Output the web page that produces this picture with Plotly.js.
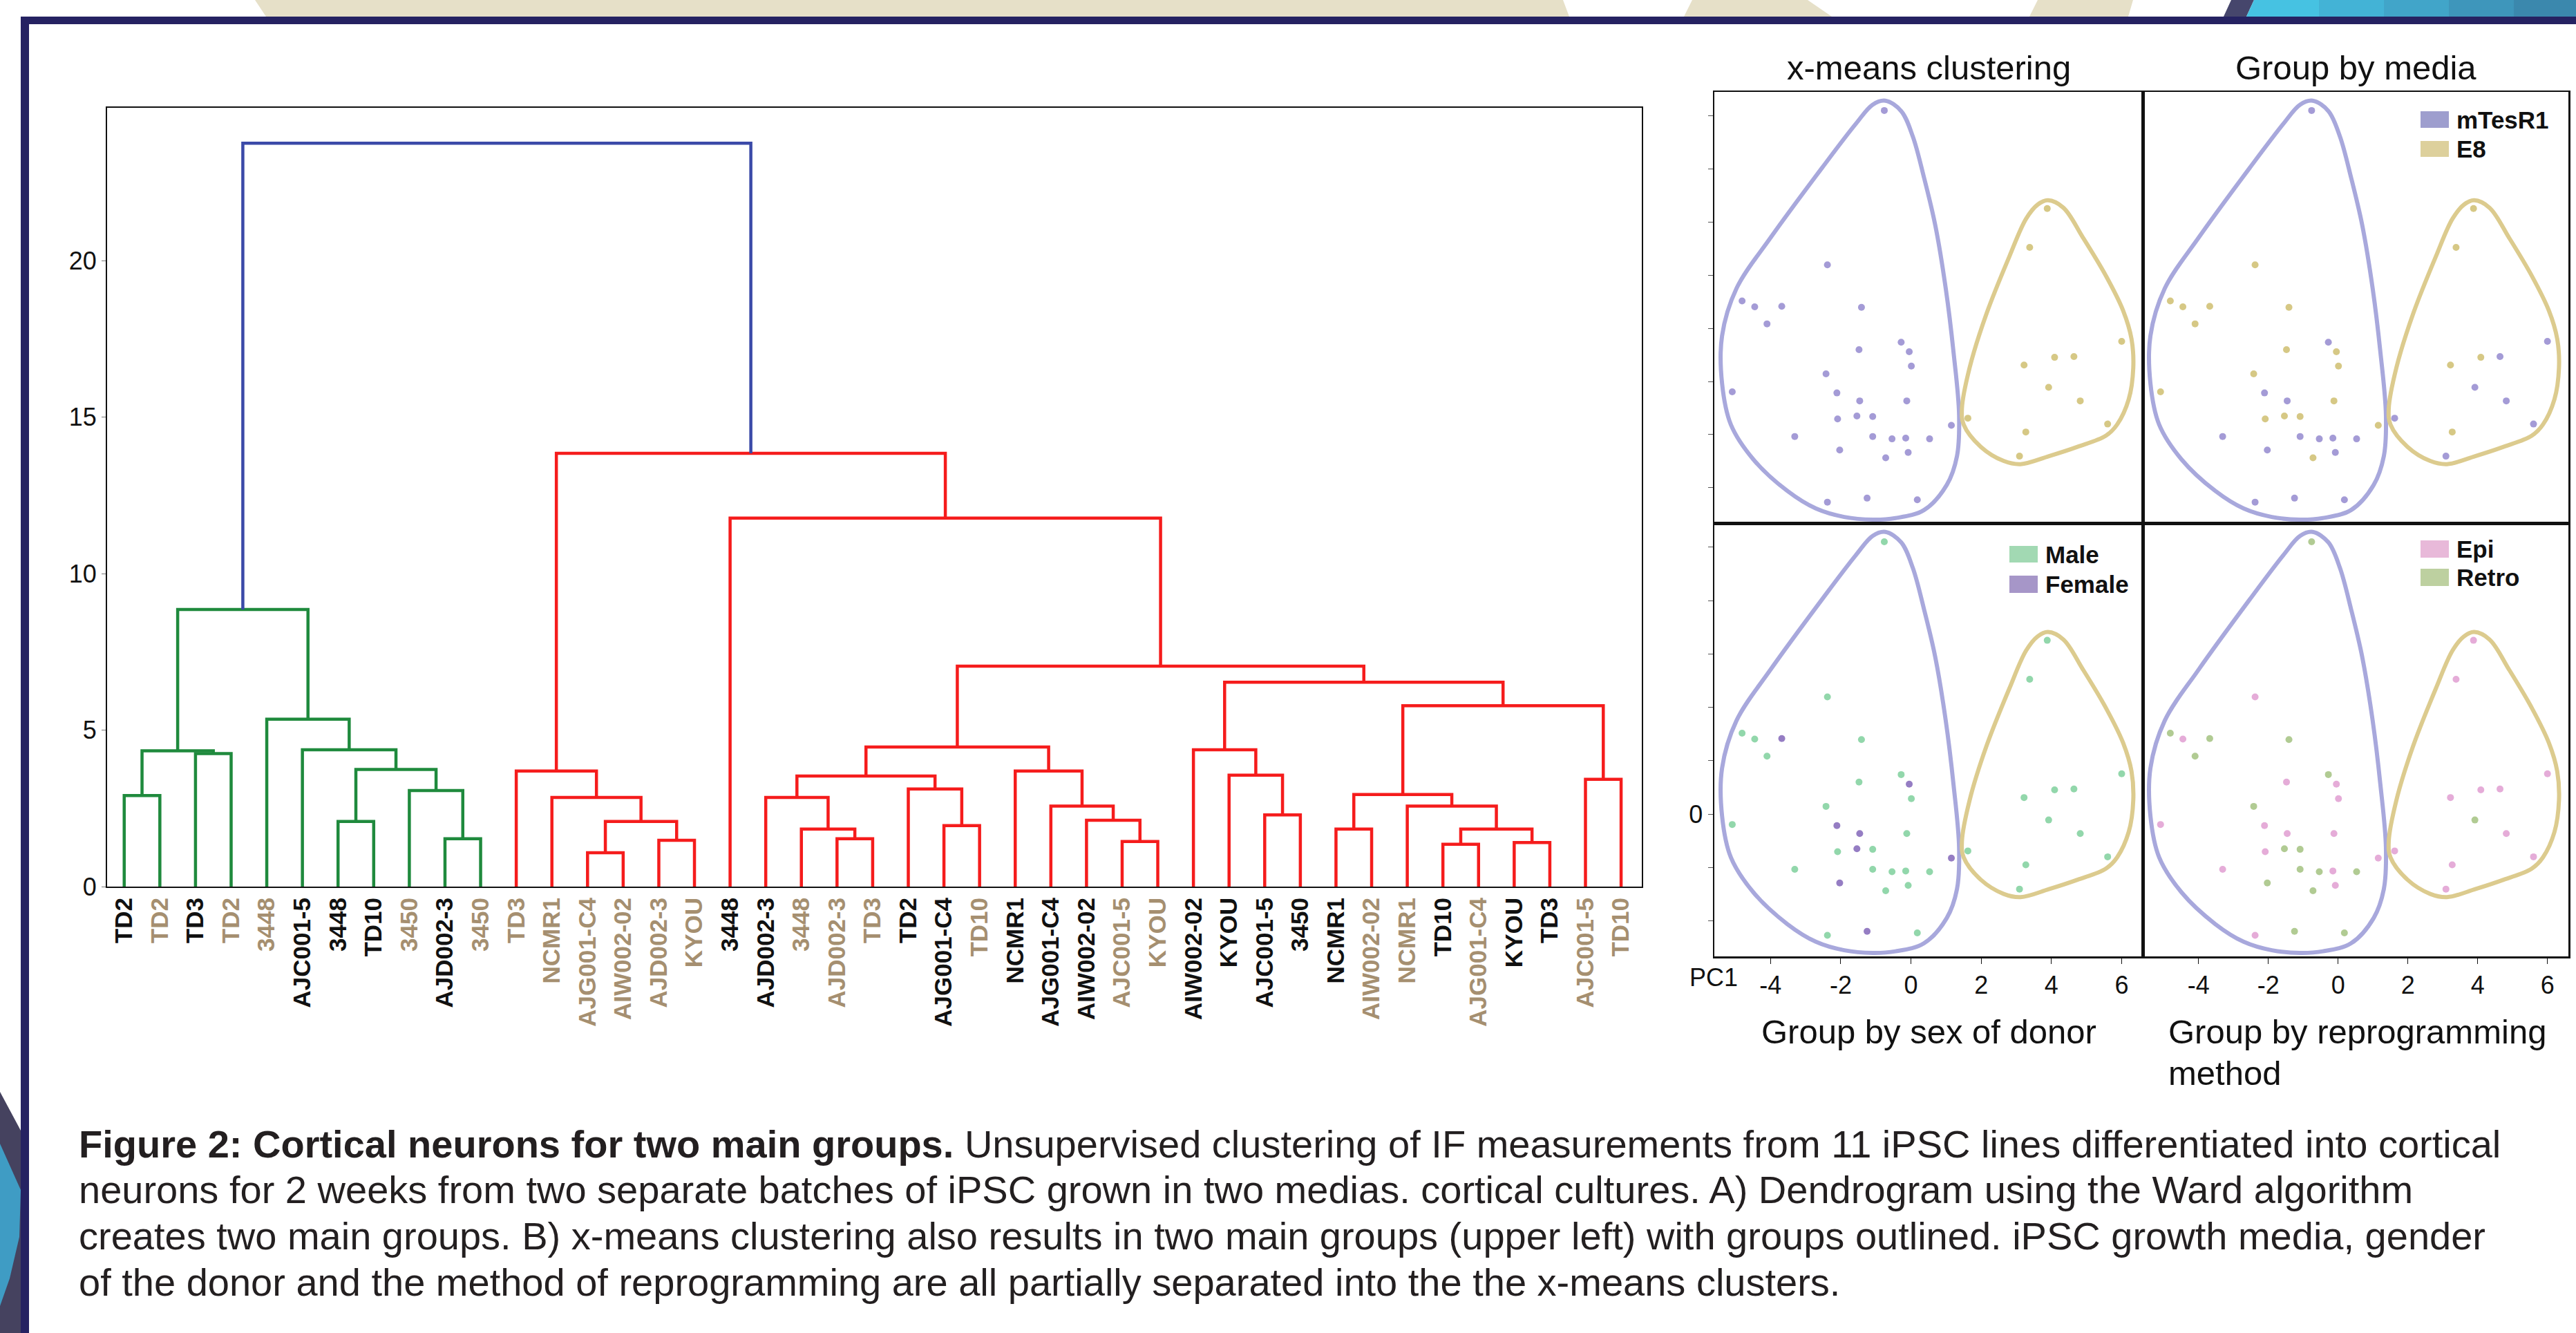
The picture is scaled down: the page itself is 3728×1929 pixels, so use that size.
<!DOCTYPE html>
<html><head><meta charset="utf-8">
<script src="https://cdn.plot.ly/plotly-3.0.1.min.js"></script>
<style>html,body{margin:0;padding:0;background:#fff;}#chart{width:3728px;height:1929px;}</style>
</head><body><div id="chart"></div>
<script>
// ---------------- DATA ----------------
// Dendrogram leaves (left to right)
const leafLabels = ["TD2","TD2","TD3","TD2","3448","AJC001-5","3448","TD10","3450","AJD002-3","3450",
  "TD3","NCMR1","AJG001-C4","AIW002-02","AJD002-3","KYOU",
  "3448","AJD002-3","3448","AJD002-3","TD3","TD2","AJG001-C4","TD10","NCMR1","AJG001-C4","AIW002-02",
  "AJC001-5","KYOU","AIW002-02","KYOU","AJC001-5","3450","NCMR1","AIW002-02","NCMR1","TD10","AJG001-C4",
  "KYOU","TD3","AJC001-5","TD10"];
// batch of each leaf (1 = black label, 2 = tan label)
const leafBatch = [1,2,1,2,2,1,1,1,2,1,2,
  2,2,2,2,2,2,
  1,1,2,2,2,1,1,2,1,1,1,2,2,1,1,1,1,1,2,2,1,2,1,1,2,2];
// Ward linkage as nested merges: [left, right, height]; numbers are leaf indices
const greenCluster = [[[0,1,2.91],[2,3,4.25],4.34],
  [4,[5,[[6,7,2.08],[8,[9,10,1.53],3.07],3.74],4.37],5.35], 8.85];
const redSub1 = [11,[12,[[13,14,1.08],[15,16,1.48],2.08],2.85],3.69];
const redSubP = [18,[19,[20,21,1.53],1.84],2.85];
const redSubQ = [22,[23,24,1.95],3.12];
const redSubS = [25,[26,[27,[28,29,1.44],2.12],2.57],3.69];
const redSubT = [30,[31,[32,33,2.29],3.56],4.37];
const redSubU = [[[34,35,1.84],[36,[[37,38,1.35],[39,40,1.41],1.84],2.57],2.94],[41,42,3.43],5.78];
const redCluster = [redSub1,[17,[[[redSubP,redSubQ,3.53],redSubS,4.46],[redSubT,redSubU,6.53],7.04],11.77],13.84];
const rootHeight = 23.75;
const dendroTicks = [0,5,10,15,20];

// PCA scatter (PC1, PC2) for 43 samples
const pc1 = [-0.76,-2.38,-4.81,-4.45,-3.68,-4.10,-1.41,-0.28,-0.05,-1.48,0.01,-2.42,-5.09,-2.11,-1.46,-0.12,
  -2.09,-1.54,-1.09,1.15,-3.31,-1.09,-0.54,-0.15,0.53,-2.03,-0.08,-0.72,-2.38,-1.25,0.18,
  3.88,3.38,6.00,4.09,4.64,3.22,3.92,4.82,1.62,5.60,3.27,3.09];
const pc2 = [10.20,4.39,3.03,2.81,2.83,2.17,2.79,1.48,1.12,1.20,0.58,0.29,-0.39,-0.43,-0.73,-0.73,
  -1.41,-1.30,-1.32,-1.65,-2.07,-2.07,-2.16,-2.13,-2.16,-2.58,-2.67,-2.87,-4.54,-4.39,-4.45,
  6.51,5.05,1.51,0.91,0.94,0.62,-0.22,-0.73,-1.38,-1.60,-1.90,-2.81];
const clusterOf = ["A","A","A","A","A","A","A","A","A","A","A","A","A","A","A","A","A","A","A","A","A","A","A","A","A","A","A","A","A","A","A",
  "B","B","B","B","B","B","B","B","B","B","B","B"];
const mediaOf = ["mTesR1","E8","E8","E8","E8","E8","E8","mTesR1","E8","E8","E8","E8","E8","mTesR1","mTesR1","E8",
  "E8","E8","E8","E8","mTesR1","mTesR1","mTesR1","mTesR1","mTesR1","mTesR1","mTesR1","E8","mTesR1","mTesR1","mTesR1",
  "E8","E8","mTesR1","E8","mTesR1","E8","mTesR1","mTesR1","mTesR1","mTesR1","E8","mTesR1"];
const sexOf = ["Male","Male","Male","Male","Female","Male","Male","Male","Female","Male","Male","Male","Male","Female","Female","Male",
  "Male","Female","Male","Female","Male","Male","Male","Male","Male","Female","Male","Male","Male","Female","Male",
  "Male","Male","Male","Male","Male","Male","Male","Male","Male","Male","Male","Male"];
const methodOf = ["Retro","Epi","Retro","Epi","Retro","Retro","Retro","Retro","Epi","Epi","Epi","Retro","Epi","Epi","Epi","Epi",
  "Epi","Retro","Retro","Epi","Epi","Retro","Retro","Epi","Retro","Retro","Epi","Retro","Epi","Retro","Retro",
  "Epi","Epi","Epi","Epi","Epi","Epi","Retro","Epi","Epi","Epi","Epi","Epi"];
// x-means cluster outlines
const hullA_x = [-0.73,-0.28,0.05,0.37,0.69,0.99,1.21,1.37,1.31,1.02,0.37,-0.44,-1.09,-1.90,-2.71,-3.52,-4.49,-5.13,-5.38,-5.38,-4.97,-4.00,-2.54,-1.57,-1.09];
const hullA_y = [10.57,10.18,9.23,7.68,5.89,3.50,1.12,-1.26,-2.81,-3.89,-4.84,-5.14,-5.20,-5.10,-4.78,-4.12,-2.93,-1.62,-0.07,1.72,3.50,5.41,8.03,9.70,10.42];
const hullB_x = [3.90,4.34,4.90,5.55,6.04,6.28,6.33,6.20,5.87,5.55,4.74,3.93,3.12,2.64,1.99,1.50,1.45,1.67,2.15,2.80,3.28,3.61];
const hullB_y = [6.82,6.54,5.41,3.98,2.67,1.60,0.52,-0.67,-1.62,-2.04,-2.46,-2.81,-3.11,-2.99,-2.46,-1.62,-1.03,0.52,2.55,4.70,6.13,6.66];
const pcTicks = [-4,-2,0,2,4,6];
const pc2Ticks = [-4,-2,0,2,4,6,8,10];

// ---------------- STYLE ----------------
const W = 3728, H = 1929;
const FONT = "Liberation Sans, Arial, Helvetica, sans-serif";
const px = v => v / W, py = v => 1 - v / H;
const linkColors = {root:"#3b4aa8", green:"#1f8a3d", red:"#f51c1c"};
const batchColor = {1:"#111111", 2:"#a58f70"};

// ---------------- DENDROGRAM ----------------
function place(node){
  if (typeof node === "number") return {x:node, h:0};
  const L = place(node[0]), R = place(node[1]);
  return {x:(L.x+R.x)/2, h:node[2], L:L, R:R};
}
function collect(info, xs, ys){
  if (!info.L) return;
  xs.push(info.L.x, info.L.x, info.R.x, info.R.x, null);
  ys.push(info.L.h, info.h, info.h, info.R.h, null);
  collect(info.L, xs, ys); collect(info.R, xs, ys);
}
const root = place([greenCluster, redCluster, rootHeight]);
const traces = [];
function linkTrace(xs, ys, color){
  return {type:"scatter", mode:"lines", x:xs, y:ys, xaxis:"x", yaxis:"y",
    line:{color:color, width:4.5}, hoverinfo:"skip", showlegend:false};
}
{
  const gx=[],gy=[],rx=[],ry=[];
  collect(root.L, gx, gy); collect(root.R, rx, ry);
  traces.push(linkTrace(gx, gy, linkColors.green));
  traces.push(linkTrace(rx, ry, linkColors.red));
  traces.push(linkTrace([root.L.x, root.L.x, root.R.x, root.R.x], [root.L.h, root.h, root.h, root.R.h], linkColors.root));
}

// ---------------- PCA PANELS ----------------
const panels = [
  {xa:"x2", ya:"y2", key:clusterOf, cats:["A","B"], colors:{A:"#9a90d2", B:"#d2c278"}},
  {xa:"x3", ya:"y3", key:mediaOf, cats:["mTesR1","E8"], colors:{mTesR1:"#9a90d2", E8:"#d2c278"}},
  {xa:"x4", ya:"y4", key:sexOf, cats:["Male","Female"], colors:{Male:"#86d3a2", Female:"#8a6fbd"}},
  {xa:"x5", ya:"y5", key:methodOf, cats:["Epi","Retro"], colors:{Epi:"#e2a3d4", Retro:"#a9c587"}}
];
panels.forEach(p => {
  traces.push({type:"scatter", mode:"lines", x:hullA_x.concat([hullA_x[0]]), y:hullA_y.concat([hullA_y[0]]),
    xaxis:p.xa, yaxis:p.ya, line:{color:"#a8a8dc", width:6, shape:"spline", smoothing:1}, hoverinfo:"skip", showlegend:false});
  traces.push({type:"scatter", mode:"lines", x:hullB_x.concat([hullB_x[0]]), y:hullB_y.concat([hullB_y[0]]),
    xaxis:p.xa, yaxis:p.ya, line:{color:"#dccb8e", width:6, shape:"spline", smoothing:1}, hoverinfo:"skip", showlegend:false});
  p.cats.forEach(c => {
    const xs=[], ys=[];
    p.key.forEach((k,i) => { if (k===c){ xs.push(pc1[i]); ys.push(pc2[i]); } });
    traces.push({type:"scatter", mode:"markers", x:xs, y:ys, xaxis:p.xa, yaxis:p.ya,
      marker:{size:10, color:p.colors[c], opacity:0.9, line:{width:0}}, hoverinfo:"skip", showlegend:false});
  });
});

// ---------------- LAYOUT ----------------
const frame = {showline:true, mirror:true, linecolor:"#111", linewidth:2.5, showgrid:false, zeroline:false};
const xL = [2481, 3101], xR = [3101, 3717], yT = [133, 757], yB = [757, 1384];
const pcRangeX = [-5.6, 6.6], pcRangeY = [-5.33, 10.9];
const tickLbl = v => String(v);
const layout = {
  width:W, height:H, margin:{l:0,r:0,t:0,b:0}, paper_bgcolor:"#ffffff", plot_bgcolor:"rgba(0,0,0,0)",
  font:{family:FONT, color:"#111"}, showlegend:false,
  xaxis: Object.assign({}, frame, {domain:[px(155), px(2376)], range:[-0.48, 42.58], anchor:"y",
    tickmode:"array", tickvals:leafLabels.map((_,i)=>i),
    ticktext:leafLabels.map((l,i)=>'<span style="color:'+batchColor[leafBatch[i]]+'">'+l+'</span>'),
    tickangle:-90, ticks:"", tickfont:{family:FONT, size:35, weight:700, color:"#111"}, linewidth:2}),
  yaxis: Object.assign({}, frame, {domain:[py(1283), py(156)], range:[0, 24.88], anchor:"x",
    tickmode:"array", tickvals:dendroTicks, ticktext:dendroTicks.map(tickLbl),
    ticks:"outside", ticklen:6, tickcolor:"#777", tickfont:{family:FONT, size:36, color:"#111"}, linewidth:2}),
  xaxis2: Object.assign({}, frame, {domain:[px(xL[0]), px(xL[1])], range:pcRangeX, anchor:"y2", showticklabels:false, ticks:""}),
  xaxis3: Object.assign({}, frame, {domain:[px(xR[0]), px(xR[1])], range:pcRangeX, anchor:"y3", showticklabels:false, ticks:""}),
  xaxis4: Object.assign({}, frame, {domain:[px(xL[0]), px(xL[1])], range:pcRangeX, anchor:"y4",
    tickmode:"array", tickvals:pcTicks, ticktext:pcTicks.map(tickLbl), ticks:"outside", ticklen:8, tickcolor:"#111",
    tickfont:{family:FONT, size:36, color:"#111"}}),
  xaxis5: Object.assign({}, frame, {domain:[px(xR[0]), px(xR[1])], range:pcRangeX, anchor:"y5",
    tickmode:"array", tickvals:pcTicks, ticktext:pcTicks.map(tickLbl), ticks:"outside", ticklen:8, tickcolor:"#111",
    tickfont:{family:FONT, size:36, color:"#111"}}),
  yaxis2: Object.assign({}, frame, {domain:[py(yT[1]), py(yT[0])], range:pcRangeY, anchor:"x2",
    tickmode:"array", tickvals:pc2Ticks, ticktext:pc2Ticks.map(()=>""), ticks:"outside", ticklen:7, tickcolor:"#555"}),
  yaxis3: Object.assign({}, frame, {domain:[py(yT[1]), py(yT[0])], range:pcRangeY, anchor:"x3", showticklabels:false, ticks:""}),
  yaxis4: Object.assign({}, frame, {domain:[py(yB[1]), py(yB[0])], range:pcRangeY, anchor:"x4",
    tickmode:"array", tickvals:pc2Ticks, ticktext:pc2Ticks.map(v => v===0 ? "0" : ""), ticks:"outside", ticklen:7, tickcolor:"#555",
    tickfont:{family:FONT, size:36, color:"#111"}}),
  yaxis5: Object.assign({}, frame, {domain:[py(yB[1]), py(yB[0])], range:pcRangeY, anchor:"x5", showticklabels:false, ticks:""}),
  shapes: [], annotations: []
};

// decorative page frame
function poly(pts, color){
  const d = pts.map((p,i)=>(i?"L":"M")+px(p[0]).toFixed(5)+","+py(p[1]).toFixed(5)).join(" ")+" Z";
  layout.shapes.push({type:"path", xref:"paper", yref:"paper", path:d, fillcolor:color, line:{width:0}, layer:"above"});
}
poly([[369,0],[2262,0],[2271,24],[385,24]], "#e6e0c8");
poly([[2449,0],[2616,0],[2651,24],[2437,24]], "#e6e0c8");
poly([[2949,0],[3087,0],[3080,24],[2937,24]], "#e6e0c8");
poly([[3229,0],[3262,0],[3251,24],[3218,24]], "#46466c");
const blues = ["#46c2e2","#43b3d6","#41a5c9","#3e96bb","#3b88ad"];
blues.forEach((c,i)=>{ const a=3262+i*94, b=3262+(i+1)*94; poly([[a,0],[b,0],[b-(i===0?0:0),24],[i===0?3251:a,24]], c); });
poly([[30,24],[3728,24],[3728,35],[30,35]], "#252262");
poly([[30,24],[42,24],[42,1929],[30,1929]], "#252262");
poly([[0,1580],[30,1636],[30,1929],[0,1929]], "#45425f");
poly([[0,1655],[30,1722],[28,1790],[14,1850],[0,1890]], "#3f9cc4");

// legend swatches + text
function legendItem(x0, y0, y1, color, text){
  layout.shapes.push({type:"rect", xref:"paper", yref:"paper", x0:px(x0), x1:px(x0+41), y0:py(y1), y1:py(y0), fillcolor:color, line:{width:0}});
  layout.annotations.push({xref:"paper", yref:"paper", x:px(x0+50), y:py((y0+y1)/2), xanchor:"left", yanchor:"middle",
    text:"<b>"+text+"</b>", showarrow:false, font:{family:FONT, size:35, color:"#111"}});
}
legendItem(3503,161,185,"#9e9ece","mTesR1");
legendItem(3503,204,227,"#ddd09c","E8");
legendItem(2908,790,814,"#a2d9b3","Male");
legendItem(2908,833,858,"#a696c8","Female");
legendItem(3503,782,807,"#e8b9d9","Epi");
legendItem(3503,823,848,"#bdd0a0","Retro");

function label(x, y, text, size, anchor){
  layout.annotations.push({xref:"paper", yref:"paper", x:px(x), y:py(y), xanchor:anchor||"center", yanchor:"middle",
    text:text, showarrow:false, font:{family:FONT, size:size, color:"#111"}});
}
label(2791, 98, "x-means clustering", 49);
label(3409, 98, "Group by media", 49);
label(2791, 1493, "Group by sex of donor", 49);
label(3136, 1493, "Group by reprogramming", 49, "left");
label(3136, 1553, "method", 49, "left");
label(2443, 1414, "PC1", 36, "left");

const caption = [
  "<b>Figure 2: Cortical neurons for two main groups.</b> Unsupervised clustering of IF measurements from 11 iPSC lines differentiated into cortical",
  "neurons for 2 weeks from two separate batches of iPSC grown in two medias. cortical cultures. A) Dendrogram using the Ward algorithm",
  "creates two main groups. B) x-means clustering also results in two main groups (upper left) with groups outlined. iPSC growth media, gender",
  "of the donor and the method of reprogramming are all partially separated into the the x-means clusters."
];
caption.forEach((t,i)=>{
  layout.annotations.push({xref:"paper", yref:"paper", x:px(112), y:py(1655+i*66.7), xanchor:"left", yanchor:"middle",
    text:t, showarrow:false, font:{family:FONT, size:56, color:"#231f20"}});
});

Plotly.newPlot("chart", traces, layout, {staticPlot:true, displayModeBar:false});
</script></body></html>
